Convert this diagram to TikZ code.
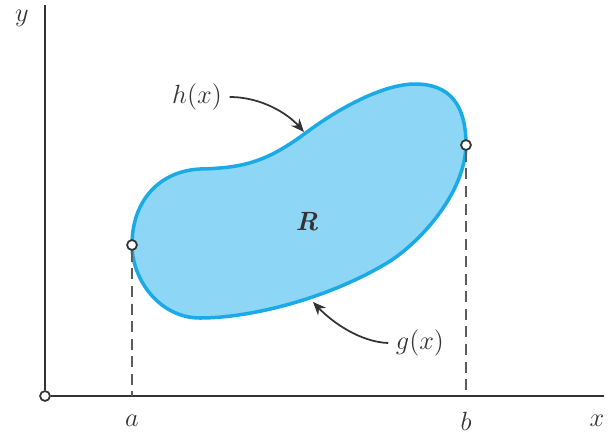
\documentclass[tikz,border=0pt]{standalone}
\usepackage{tikz}
\usetikzlibrary{arrows.meta,calc}
\definecolor{region}{HTML}{8DD6F5}
\definecolor{edge}{HTML}{1AABE6}
\definecolor{ink}{HTML}{333333}

\begin{document}
\begin{tikzpicture}[
    x=0.016cm, y=-0.016cm,
    axis/.style={draw=ink, line width=0.9pt},
    guide/.style={draw=ink!80, line width=0.8pt, dash pattern=on 5pt off 3pt},
    dot/.style={circle, draw=ink, fill=white, line width=0.8pt, inner sep=0pt, minimum size=4.5pt},
    tag/.style={font=\large, text=ink},
    pointer/.style={->, >={Stealth[length=6pt,width=5pt]}, draw=ink, line width=0.8pt}
  ]
  \useasboundingbox (0,0) rectangle (609,433);

  % axes
  \node[dot] (O) at (45,396) {};
  \coordinate (ytop) at (45,5);
  \coordinate (xend) at (604,396);
  \draw[axis] (O) -- (ytop);
  \draw[axis] (O) -- (xend);
  \node[tag] (ylab) at (22,18) {$y$};
  \node[tag] (xlab) at (597,421) {$x$};

  % the region
  \draw[draw=edge, fill=region, line width=1.6pt]
    (132,245) .. controls (132,200) and (160,171) .. (200,169)
              .. controls (245,168) and (268,161) .. (307,132)
              .. controls (342,106) and (385,84) .. (415,84)
              .. controls (450,84) and (466,105) .. (466,145)
              .. controls (465,195) and (417,245) .. (387,263)
              .. controls (327,299) and (250,318) .. (200,318)
              .. controls (160,318) and (132,280) .. cycle;
  \node[tag] (R) at (307,222) {\textbf{\textit{R}}};

  % end points and guides
  \node[dot] (A) at (132,245) {};
  \node[dot] (B) at (466,145) {};
  \coordinate (aa) at (132,396);
  \coordinate (bb) at (466,396);
  \draw[guide] (A) -- (aa);
  \draw[guide] (B) -- (bb);
  \node[tag] (alab) at (132,421) {$a$};
  \node[tag] (blab) at (466,421) {$b$};

  % boundary labels
  \node[tag] (h) at (197,97) {$h(x)$};
  \node[tag] (g) at (420,343) {$g(x)$};
  \coordinate (hpt) at (304,132);
  \coordinate (gpt) at (313,302);
  \draw[pointer] (h.east) .. controls (262,97) and (288,114) .. (hpt);
  \draw[pointer] (g.west) .. controls (360,342) and (332,322) .. (gpt);
\end{tikzpicture}
\end{document}
